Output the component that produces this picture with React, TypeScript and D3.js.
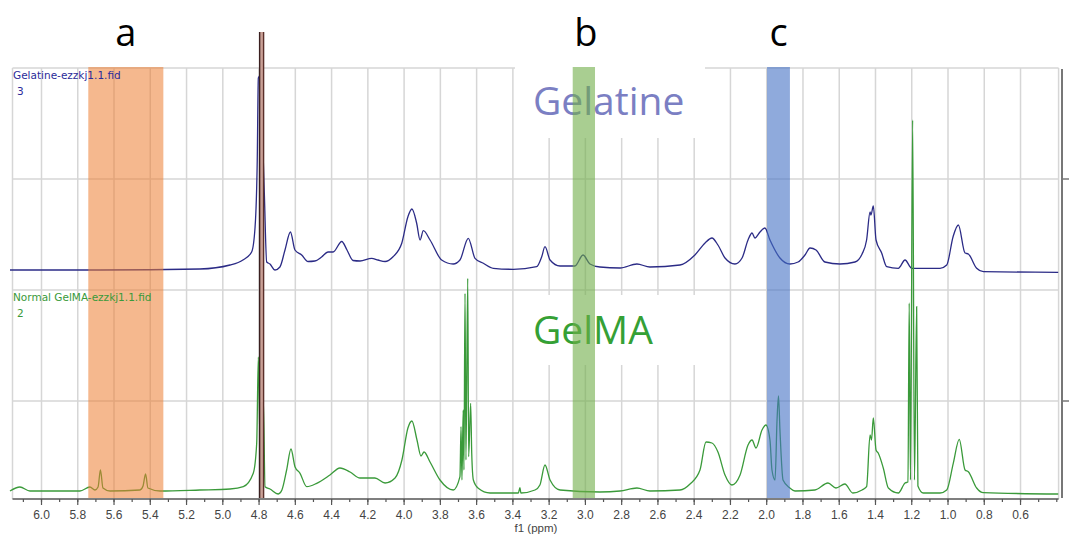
import React from "react";
import * as d3 from "d3";

// ---- Data (ppm, intensity above own baseline) ----
const gelatineSpectrum: [number, number][] = [
  [6.174, 1], [5.677, 1], [5.126, 2], [4.96, 6], [4.889, 11], [4.841, 19], [4.822, 44], [4.81, 111],
  [4.804, 193], [4.795, 195], [4.784, 151], [4.771, 78], [4.758, 9], [4.74, 7], [4.712, 1], [4.685, 4],
  [4.657, 21], [4.627, 39], [4.602, 21], [4.565, 16], [4.53, 9.5], [4.492, 10], [4.455, 14], [4.42, 19],
  [4.392, 19], [4.344, 29.5], [4.315, 21], [4.282, 10.5], [4.243, 10], [4.179, 12.7], [4.144, 11],
  [4.105, 9.5], [4.061, 14.3], [4.013, 27.7], [3.979, 54.3], [3.957, 62], [3.931, 48], [3.912, 31],
  [3.894, 40.3], [3.857, 31], [3.793, 11], [3.729, 7], [3.692, 11], [3.646, 32.7], [3.609, 12.7],
  [3.563, 7.7], [3.508, 2.7], [3.398, 1.7], [3.269, 4.3], [3.241, 14.3], [3.223, 24.3], [3.195, 11],
  [3.14, 5], [3.058, 5], [3.013, 16], [2.975, 7], [2.92, 4], [2.809, 3], [2.716, 7], [2.644, 4],
  [2.478, 6], [2.396, 16], [2.34, 28], [2.302, 33], [2.269, 26], [2.23, 13], [2.175, 7], [2.136, 13],
  [2.103, 31], [2.081, 38], [2.065, 33], [2.037, 39], [2.01, 43], [1.982, 31], [1.927, 13], [1.872, 7],
  [1.827, 9], [1.789, 16], [1.761, 23], [1.728, 21], [1.679, 9], [1.596, 7], [1.513, 9], [1.474, 17],
  [1.449, 31], [1.43, 59], [1.425, 56], [1.412, 65], [1.397, 31], [1.366, 18], [1.338, 4.3],
  [1.274, 2.7], [1.237, 11], [1.2, 2.7], [1.044, 2.7], [1.007, 6], [0.972, 34.3], [0.943, 46],
  [0.906, 18], [0.888, 17], [0.842, 2.7], [0.805, -0.7], [0.392, -1.3],
];

const gelmaSpectrum: [number, number][] = [
  [6.174, 2], [6.119, 6], [6.064, 2], [5.788, 2], [5.733, 6], [5.705, 3], [5.688, 6], [5.675, 23],
  [5.661, 5], [5.622, 2], [5.457, 3], [5.44, 7], [5.426, 19], [5.413, 5], [5.346, 2], [5.126, 3],
  [4.96, 4], [4.887, 6.3], [4.832, 19.7], [4.813, 50], [4.804, 136], [4.795, 53], [4.777, 96],
  [4.767, 6.3], [4.74, 4], [4.694, -1], [4.674, 3], [4.648, 23], [4.624, 44], [4.602, 26.3],
  [4.574, 19.7], [4.537, 6.3], [4.482, 9.7], [4.409, 18], [4.354, 25], [4.298, 21], [4.243, 15],
  [4.161, 15], [4.105, 10], [4.05, 15], [4.012, 33], [3.979, 65], [3.957, 72], [3.929, 53],
  [3.907, 37], [3.89, 41], [3.857, 31], [3.802, 13], [3.729, 3], [3.692, 16.3], [3.686, 66.3],
  [3.681, 13], [3.674, 83], [3.67, 23], [3.664, 199.7], [3.659, 33], [3.649, 214.7], [3.644, 36.3],
  [3.633, 89.7], [3.627, 39.7], [3.618, 13], [3.591, 4.7], [3.526, 0], [3.37, 0], [3.361, 5.3],
  [3.356, 0], [3.278, 3], [3.251, 8], [3.223, 28], [3.195, 13], [3.14, 3], [2.92, 1], [2.809, 2],
  [2.716, 5], [2.644, 2], [2.478, 3], [2.423, 9], [2.368, 23], [2.335, 51], [2.302, 50], [2.269, 41],
  [2.23, 18], [2.192, 8], [2.147, 18], [2.103, 48], [2.081, 53], [2.059, 45], [2.026, 63], [2.004, 68],
  [1.982, 53], [1.971, 23], [1.954, 13], [1.943, 73], [1.935, 97], [1.927, 63], [1.91, 13], [1.872, 5],
  [1.844, 2], [1.734, 3], [1.662, 10], [1.618, 5], [1.569, 9], [1.525, 0], [1.474, 3], [1.449, 6.3],
  [1.43, 58], [1.422, 53], [1.412, 75], [1.397, 43], [1.385, 40], [1.357, 25], [1.329, 5], [1.274, 0],
  [1.237, 10], [1.221, 11], [1.214, 190], [1.207, 13], [1.195, 373], [1.185, 13], [1.173, 186.3],
  [1.166, 7], [1.136, 0], [1.044, 0], [1.007, 3], [0.971, 29.7], [0.938, 53.7], [0.906, 23],
  [0.888, 21.3], [0.842, 5], [0.805, 0.3], [0.392, -1],
];

const bandRanges: [number, number][] = [[5.742, 5.328], [3.07, 2.947], [1.998, 1.872]];
const bandLabels = ["a", "b", "c"];
const bandColors = ["rgba(237,125,49,0.55)", "rgba(112,173,71,0.6)", "rgba(68,114,196,0.6)"];
const solventPeak: [number, number] = [4.797, 4.775];

const majorTicks = d3.range(0, 28).map((i) => +(6.0 - i * 0.2).toFixed(1));
const minorTicks = d3.range(0, 58).map((i) => +(6.1 - i * 0.1).toFixed(1));
const gridValues = [111, 222, 333, 444];
const rightTicks = [111, 333];

export default function App() {
  const W = 1072, H = 536;
  const x = d3.scaleLinear().domain([6.16, 0.39]).range([12.5, 1058.6]);
  const y = d3.scaleLinear().domain([0, 444]).range([512, 68]);
  const topOffset = 241;
  const botOffset = 19;
  const axisY = y(13);

  const lineFor = (off: number) =>
    d3.line<[number, number]>()
      .x((d) => x(d[0]))
      .y((d) => y(d[1] + off))
      .curve(d3.curveMonotoneX);

  const left = x(6.16), right = x(0.39);
  const bandTop = 67, bandBot = 498;
  const s0 = x(solventPeak[0]), s1 = x(solventPeak[1]);

  return (
    <svg width={W} height={H} style={{ position: "absolute", left: 0, top: 0, background: "#fff" }}>
      {/* grid */}
      <g stroke="#d6d6d6" strokeWidth={1.5}>
        {gridValues.map((g) => (
          <line key={"h" + g} x1={left} x2={right} y1={y(g)} y2={y(g)} />
        ))}
        {majorTicks.map((t) => (
          <line key={"v" + t} x1={x(t)} x2={x(t)} y1={y(444)} y2={axisY} />
        ))}
        <line x1={left} x2={left} y1={y(444)} y2={axisY} />
        <line x1={right} x2={right} y1={y(444)} y2={axisY} />
      </g>

      {/* white text boxes */}
      <rect x={515} y={60} width={190} height={78} fill="#fff" />
      <rect x={515} y={295} width={190} height={70} fill="#fff" />
      <text x={533} y={115} fontFamily="'Open Sans', sans-serif" fontSize={39} fill="#7b7fc3">Gelatine</text>
      <text x={533} y={344} fontFamily="'Open Sans', sans-serif" fontSize={39} fill="#35a035">GelMA</text>

      {/* spectra */}
      <path d={lineFor(topOffset)(gelatineSpectrum) || ""} fill="none" stroke="#2b2b86" strokeWidth={1.3} />
      <path d={lineFor(botOffset)(gelmaSpectrum) || ""} fill="none" stroke="#3a9a3a" strokeWidth={1.3} />

      {/* highlight bands */}
      {bandRanges.map((b, i) => (
        <rect key={"b" + i} x={x(b[0])} width={x(b[1]) - x(b[0])} y={bandTop} height={bandBot - bandTop} fill={bandColors[i]} />
      ))}

      {/* solvent marker: double line */}
      <rect x={s0} width={s1 - s0} y={32} height={498 - 32} fill="#c9a096" />
      <line x1={s0} x2={s0} y1={32} y2={498} stroke="#3a1f1f" strokeWidth={1.4} />
      <line x1={s1} x2={s1} y1={32} y2={498} stroke="#5a2f2a" strokeWidth={1.4} />

      {/* band labels */}
      {bandRanges.map((b, i) => (
        <text key={"l" + i} x={x((b[0] + b[1]) / 2) + (i === 1 ? 2 : 0)} y={46} textAnchor="middle"
          fontFamily="'Open Sans', sans-serif" fontSize={38} fill="#000">{bandLabels[i]}</text>
      ))}

      {/* dataset labels */}
      <g fontFamily="'DejaVu Sans', Verdana, sans-serif" fontSize={10.5}>
        <text x={13} y={79} fill="#2b2b9a">Gelatine-ezzkj1.1.fid</text>
        <text x={17} y={95} fill="#2b2b9a">3</text>
        <text x={13} y={301} fill="#3a9a3a">Normal GelMA-ezzkj1.1.fid</text>
        <text x={17} y={317} fill="#3a9a3a">2</text>
      </g>

      {/* right axis */}
      <line x1={1062} x2={1062} y1={69} y2={498} stroke="#777" strokeWidth={2} />
      {rightTicks.map((t) => (
        <line key={"r" + t} x1={1062} x2={1069} y1={y(t)} y2={y(t)} stroke="#777" strokeWidth={1.5} />
      ))}

      {/* bottom axis */}
      <line x1={left} x2={right} y1={axisY} y2={axisY} stroke="#555" strokeWidth={1.5} />
      {minorTicks.map((t) => (
        <line key={"m" + t} x1={x(t)} x2={x(t)} y1={axisY} y2={axisY + 3} stroke="#555" strokeWidth={1.2} />
      ))}
      {majorTicks.map((t) => (
        <g key={"t" + t}>
          <line x1={x(t)} x2={x(t)} y1={axisY} y2={axisY + 6} stroke="#555" strokeWidth={1.2} />
          <text x={x(t)} y={519} textAnchor="middle" fontFamily="'Liberation Sans', Arial, sans-serif" fontSize={12} fill="#444">
            {t.toFixed(1)}
          </text>
        </g>
      ))}
      <text x={536} y={532} textAnchor="middle" fontFamily="'Liberation Sans', Arial, sans-serif" fontSize={11.5} fill="#444">f1 (ppm)</text>
    </svg>
  );
}
